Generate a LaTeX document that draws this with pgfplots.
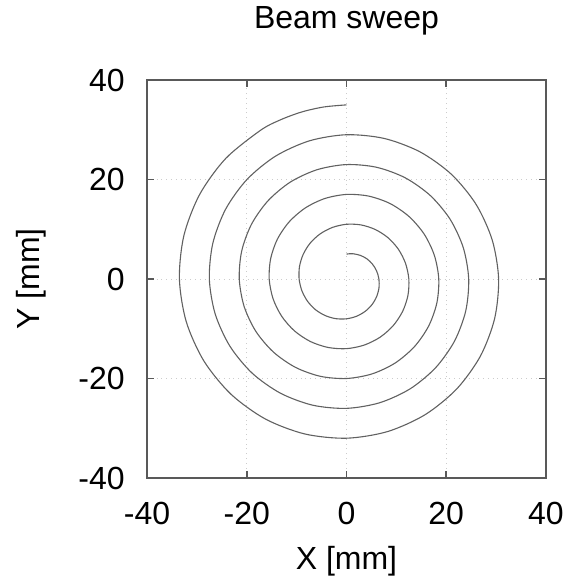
\documentclass[border=0pt]{standalone}
\usepackage{pgfplots}
\pgfplotsset{compat=1.18}
\usepackage{fontspec}
\setmainfont{Liberation Sans}

\begin{document}
\begin{tikzpicture}
\begin{axis}[
  name=ax,
  scale only axis,
  width=199.5pt, height=199pt,
  xmin=-40, xmax=40, ymin=-40, ymax=40,
  xtick={-40,-20,0,20,40}, ytick={-40,-20,0,20,40},
  tick align=inside,
  major tick length=3.5pt,
  tick style={black!65, line width=0.8pt},
  axis line style={black!65, line width=0.9pt},
  grid=major,
  major grid style={gray!40, dotted, line width=0.4pt},
  /pgf/number format/assume math mode=true,
  tick label style={font=\fontsize{16}{18}\selectfont, inner sep=0pt},
  xticklabel style={anchor=base, yshift=-23pt},
  yticklabel style={anchor=east, xshift=-11pt},
  label style={font=\fontsize{16}{18}\selectfont},
  title style={font=\fontsize{16}{18}\selectfont,
    at={(axis description cs:0.5,1)}, anchor=base, yshift=20pt},
  title={Beam sweep},
  xlabel={X [mm]},
  xlabel style={at={(axis description cs:0.5,0)}, anchor=base, yshift=-45.5pt},
  ylabel={Y [mm]},
  ylabel style={at={([xshift=-53.5pt]axis description cs:0,0.5)}, anchor=base, rotate=0},
]
% clockwise Archimedean sweep, sampled every 15 degrees (finer at both ends)
\addplot[smooth, black!62, line width=0.55pt] coordinates {
(0,5) (0.67,5.08) (1.36,5.07) (2.75,4.76) (4.07,4.07) (5.20,3.00) (6.04,1.62)
(6.5,0) (6.52,-1.75) (6.06,-3.50) (5.13,-5.13) (3.75,-6.50) (2.01,-7.49)
(0,-8) (-2.14,-7.97) (-4.25,-7.36) (-6.19,-6.19) (-7.79,-4.50) (-8.93,-2.39)
(-9.5,0) (-9.42,2.52) (-8.66,5.00) (-7.25,7.25) (-5.25,9.09) (-2.78,10.38)
(0,11) (2.91,10.87) (5.75,9.96) (8.31,8.31) (10.39,6.00) (11.83,3.17)
(12.5,0) (12.32,-3.30) (11.26,-6.50) (9.37,-9.37) (6.75,-11.69) (3.56,-13.28)
(0,-14) (-3.69,-13.76) (-7.25,-12.56) (-10.43,-10.43) (-12.99,-7.50) (-14.73,-3.95)
(-15.5,0) (-15.21,4.08) (-13.86,8.00) (-11.49,11.49) (-8.25,14.29) (-4.34,16.18)
(0,17) (4.46,16.66) (8.75,15.16) (12.55,12.55) (15.59,9.00) (17.63,4.72)
(18.5,0) (18.11,-4.85) (16.45,-9.50) (13.61,-13.61) (9.75,-16.89) (5.11,-19.08)
(0,-20) (-5.24,-19.56) (-10.25,-17.75) (-14.67,-14.67) (-18.19,-10.50) (-20.53,-5.50)
(-21.5,0) (-21.01,5.63) (-19.05,11.00) (-15.73,15.73) (-11.25,19.49) (-5.89,21.97)
(0,23) (6.02,22.46) (11.75,20.35) (16.79,16.79) (20.78,12.00) (23.42,6.28)
(24.5,0) (23.91,-6.41) (21.65,-12.50) (17.85,-17.85) (12.75,-22.08) (6.66,-24.87)
(0,-26) (-6.79,-25.36) (-13.25,-22.95) (-18.92,-18.92) (-23.38,-13.50) (-26.32,-7.05)
(-27.5,0) (-26.80,7.18) (-24.25,14.00) (-19.98,19.98) (-14.25,24.68) (-7.44,27.77)
(0,29) (7.57,28.25) (14.75,25.55) (21.04,21.04) (25.98,15.00) (29.22,7.83)
(30.5,0) (29.70,-7.96) (26.85,-15.50) (22.10,-22.10) (15.75,-27.28) (8.22,-30.67)
(0,-32) (-8.35,-31.15) (-16.25,-28.15) (-23.16,-23.16) (-28.58,-16.50) (-32.12,-8.61)
(-33.5,0) (-32.60,8.74) (-29.44,17.00) (-24.22,24.22) (-17.25,29.88) (-13.25,31.99)
(-8.99,33.57) (-4.55,34.58) (0,35)
};
\end{axis}
% page extent around the axis box
\pgfresetboundingbox
\path ([shift={(-73.5pt,-50.5pt)}]ax.south west) rectangle ([shift={(12.5pt,40pt)}]ax.north east);
\end{tikzpicture}
\end{document}
